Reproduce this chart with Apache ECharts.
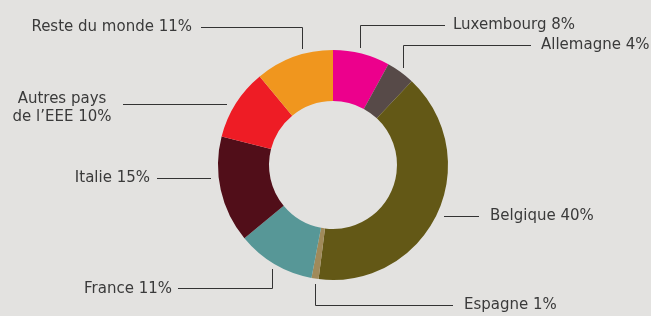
<!DOCTYPE html>
<html>
<head>
<meta charset="utf-8">
<script src="https://cdn.jsdelivr.net/npm/echarts@6/dist/echarts.min.js"></script>
<style>
  html, body { margin: 0; padding: 0; background: #e3e2e0; }
  #chart { width: 651px; height: 316px; }
</style>
</head>
<body>
<div id="chart"></div>
<script>
// données
const countries = ['Luxembourg', 'Allemagne', 'Belgique', 'Espagne', 'France', 'Italie', 'Autres pays\nde l’EEE', 'Reste du monde'];
const shares = [8, 4, 40, 1, 11, 15, 10, 11];
const colors = ['#ec008c', '#574a48', '#635816', '#a08a5a', '#579797', '#510e19', '#ee1c25', '#f0961e'];

// position des étiquettes et des traits de rappel (demi-pixel pour des traits nets)
const labelPos = [
    { x: 453, y: 25, align: 'left', line: [[360.5, 48], [360.5, 25.5], [445, 25.5]] },
    { x: 541, y: 45, align: 'left', line: [[403.5, 68], [403.5, 45.5], [531, 45.5]] },
    { x: 490, y: 216, align: 'left', line: [[444, 216.5], [462, 216.5], [479, 216.5]] },
    { x: 464, y: 305, align: 'left', line: [[315.5, 284], [315.5, 305.5], [453, 305.5]] },
    { x: 172, y: 289, align: 'right', line: [[272.5, 269], [272.5, 288.5], [178, 288.5]] },
    { x: 150, y: 178, align: 'right', line: [[211, 178.5], [185, 178.5], [157, 178.5]] },
    { x: 62, y: 108, align: 'center', line: [[227, 104.5], [175, 104.5], [123, 104.5]] },
    { x: 192, y: 27, align: 'right', line: [[302.5, 49], [302.5, 27.5], [201, 27.5]] }
];

const chart = echarts.init(document.getElementById('chart'));

chart.setOption({
    backgroundColor: '#e3e2e0',
    animation: false,
    series: [{
        type: 'pie',
        center: [333, 165],
        radius: [64, 115],
        startAngle: 90,
        clockwise: true,
        data: countries.map((name, i) => ({
            name: name,
            value: shares[i],
            itemStyle: { color: colors[i] }
        })),
        label: {
            show: true,
            position: 'outside',
            formatter: '{b} {c}%',
            color: '#3a3a3a',
            fontFamily: 'DejaVu Sans',
            fontSize: 15,
            lineHeight: 18
        },
        labelLine: {
            show: true,
            lineStyle: { color: '#333333', width: 1 }
        },
        labelLayout: function (params) {
            const p = labelPos[params.dataIndex];
            return {
                x: p.x,
                y: p.y,
                align: p.align,
                verticalAlign: 'middle',
                labelLinePoints: p.line
            };
        }
    }]
});
</script>
</body>
</html>
